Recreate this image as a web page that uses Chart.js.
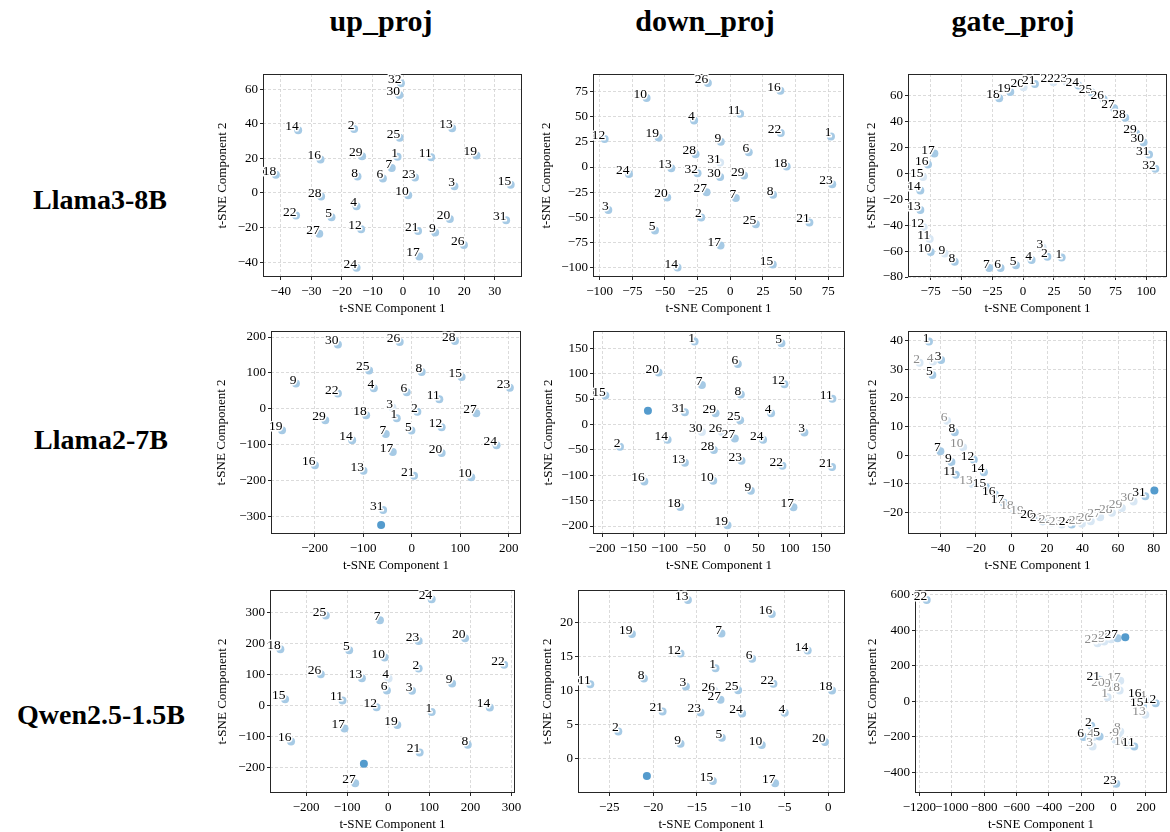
<!DOCTYPE html>
<html>
<head>
<meta charset="utf-8">
<script src="https://cdn.jsdelivr.net/npm/chart.js@4.4.1/dist/chart.umd.min.js"></script>
<style>
  body { margin: 0; background: #fff; width: 1170px; height: 832px; position: relative; overflow: hidden; font-family: "Liberation Serif", "Times New Roman", serif; }
  .colTitle, .rowTitle { position: absolute; font-weight: bold; white-space: nowrap; transform: translate(-50%, -50%); color: #000; }
  .colTitle { font-size: 30px; }
  .rowTitle { font-size: 28px; }
  canvas { position: absolute; }
</style>
</head>
<body>
<div class="colTitle" style="left:381px;top:21px">up_proj</div>
<div class="colTitle" style="left:705px;top:21px">down_proj</div>
<div class="colTitle" style="left:1013px;top:21px">gate_proj</div>
<div class="rowTitle" style="left:100px;top:200px">Llama3-8B</div>
<div class="rowTitle" style="left:101px;top:440px">Llama2-7B</div>
<div class="rowTitle" style="left:101px;top:715px">Qwen2.5-1.5B</div>

<script>
// t-SNE coordinates, one entry per layer (layer 1, 2, 3 ...). "extra" is the unlabeled dark point.

// Llama3-8B
const llama3UpX = [-1.8, -16, 16.8, -15.2, -23.4, -6.6, -3.7, -14.9, 10.5, 1.7, 9.2, -13.7, 16.05, -34.3, 35.2, -27, 5.3, -41.6, 24, 15.3, 4.9, -35, 3.9, -15.2, -1.1, 19.9, -27.4, -26.8, -13.4, -1.2, 33.7, -0.7];
const llama3UpY = [20.9, 37, 3.9, -7.7, -14.1, 8.4, 14.5, 9.5, -22.8, -1.3, 20.7, -21, 37.4, 36.2, 4.7, 19.4, -36.7, 10.5, 21.7, -15, -22, -13.1, 8.9, -43.3, 32, -30.1, -23.6, -2.1, 21.3, 56.7, -15.8, 63.5];

const llama3DownX = [77, -22.3, -93.4, -27.7, -57.7, 14.1, 4.2, 32.7, -7.3, -64.1, 7.5, -96.2, -45.2, -40.4, 32.5, 38.3, -7.5, 43.1, -54.9, -48.3, 60.5, 38.6, 78, -77.6, 19.5, -17.2, -18.2, -26.6, 10.5, -7.8, -7.8, -25.1];
const llama3DownY = [30.3, -50, -42.7, 46.2, -62.9, 14.7, -30.7, -27.4, 25, 68.4, 52.8, 27.9, -1.2, -99.7, -96.7, 75.7, -77.8, 0.4, 29.3, -30.1, -54.9, 33.6, -17.1, -6.9, -56.6, 83.3, -25.1, 12.7, -8.5, -9.9, 4.4, -6.2];

const llama3GateX = [31.3, 19.7, 15.9, 6.9, -5.8, -18.3, -27.5, -55.5, -63.6, -75, -75.8, -80.7, -83.4, -83.4, -81.2, -77.2, -72, -19.4, -10.4, 0.4, 9.6, 24.6, 35.4, 44.9, 55.8, 65.3, 73.9, 82.9, 91.8, 97.8, 102.2, 107.3];
const llama3GateY = [-65, -64.4, -57.2, -66.8, -70.9, -73, -73, -68.3, -61.9, -60.6, -50.7, -41.6, -28.2, -13.1, -2.7, 6.9, 15.4, 58.2, 62.9, 66.7, 69.1, 70.6, 70.6, 68, 62.6, 57.4, 50.4, 43.1, 31, 24, 14.6, 3.7];

// Llama2-7B
const llama2UpX = [-30.8, 11.6, -39.7, -78, -0.7, -10.3, -53.4, 20.5, -238.4, 122.6, 56.8, 61.6, -99.3, -122.6, 102.7, -199.3, -39, -93.8, -267, 61.6, 4.8, -152, 202, 174.7, -87.7, -24.7, 132.9, 89, -178, -152, -58.9];
const llama2UpY = [-26.3, -8.6, 3.5, 57.5, -60.7, 46.4, -70, 102.2, 70.2, -191, 26.8, -51.4, -172.4, -87.7, 88.3, -157.5, -120.3, -17.9, -59.8, -123.1, -186.4, 42.6, 58.5, -101.7, 106.9, 186, -12.3, 188.8, -31.8, 179.5, -282.3];
const llama2UpExtra = [-63, -324.2];

const llama2DownX = [-52.1, -171.3, 123.4, 70.2, 86.7, 17, -40.4, 21.8, 37.8, -22.3, 168.1, 91.5, -67.6, -95.2, -194.7, -132.4, 105.9, -75, 0.5, -109.6, 167.6, 88.3, 22.9, 57.4, 20.7, -8.5, 12.2, -21.3, -18.6, -40.4, -67.6];
const llama2DownY = [163.1, -44, -15.8, 22.2, 159.8, 119.2, 77.9, 58.9, -130.5, -110.8, 50.4, 79.2, -75.4, -30.2, 57, -112.1, -163.2, -162.6, -198.6, 102.2, -83.9, -81.3, -71.5, -30.2, 8.5, -15, -27.6, -50.5, 22.2, -15.1, 24.2];
const llama2DownExtra = [-126.6, 26.8];

const llama2GateX = [-46.4, -51.7, -39.6, -44.1, -44.5, -36.2, -40, -31.9, -33.8, -27.2, -31.3, -21.2, -22, -15.5, -14.4, -9.3, -4.3, 1, 6.6, 12.3, 17.6, 22.6, 28.3, 33.9, 39.6, 44.6, 49.9, 56.5, 62.1, 68.7, 75.3];
const llama2GateY = [39.7, 32.3, 33.3, 32.7, 28, 12, 1.3, 8, -2.4, 2.7, -6.9, -1.6, -10.1, -6, -11.2, -13.8, -16.7, -18.7, -20.6, -22, -23.1, -23.7, -24.3, -24.3, -24, -23.1, -21.7, -20.2, -18.5, -16.2, -14.4];
const llama2GateExtra = [80.4, -12.4];

// Qwen2.5-1.5B
const qwenUpX = [105.7, 74, 57.7, 0.8, -95.1, -3.3, -20.3, 193.5, 155.3, -8.9, -111.4, -28.5, -64.2, 247.2, -251.2, -236.6, -106.5, -262.6, 22, 187, 76.4, 282.1, 74, 105.7, -152, -164.2, -80.5];
const qwenUpY = [-21.5, 119.4, 47.3, 87.1, 178.5, 48.4, 275.3, -126.9, 71, 154.8, 16.1, -5.4, 88.2, -6.5, 20.4, -116.1, -74.2, 181.7, -63.4, 217.2, -151.6, 131.2, 208.6, 343, 290.3, 101.1, -251.6];
const qwenUpExtra = [-59.3, -188.2];

const qwenDownX = [-12.88, -23.97, -16.26, -4.98, -12.16, -8.7, -12.2, -21.05, -16.87, -7.6, -27.17, -16.87, -16.03, -2.36, -13.18, -6.46, -6.08, 0.42, -22.42, -0.38, -18.92, -6.27, -14.59, -9.84, -10.3, -13, -12.31];
const qwenDownY = [13.28, 3.97, 10.59, 6.72, 3.04, 14.66, 18.38, 11.76, 2.16, 1.96, 10.93, 15.44, 23.33, 15.88, -3.33, 21.27, -3.68, 10, 18.33, 2.4, 6.91, 10.98, 6.76, 6.62, 10.05, 9.95, 8.63];
const qwenDownExtra = [-20.71, -2.6];

const qwenGateX = [-37, -138.1, -129.9, -123.7, -86.6, -185.6, 10.3, 41.2, 31, 82.5, 127.8, 259.8, 196, 196, 181.4, 169, 41.2, 37.1, -20.6, -57.7, -86.6, -1154.6, 16.5, -99, -57.7, -16.5, 24.7];
const qwenGateY = [24, -137.3, -253.6, -201.1, -197.4, -201.1, -216.1, -169, -197, -244.3, -253.6, -9.8, -75.4, 12.8, -24.8, 27.8, 116, 61.5, 84, 89.7, 121.6, 571.9, -463.8, 328, 337.6, 350.5, 356];
const qwenGateExtra = [72.2, 361.7];

// layers drawn paler
const llama3DownFaded = [31];
const llama3GateFaded = [3, 9, 11, 12, 15, 20, 22, 23];
const llama2UpFaded = [3];
const llama2DownFaded = [26, 30];
const llama2GateFaded = [2, 4, 6, 10, 13, 18, 19, 22, 23, 25, 26, 27, 28, 29, 30];
const qwenUpFaded = [4];
const qwenDownFaded = [26];
const qwenGateFaded = [1, 3, 4, 7, 8, 9, 10, 13, 14, 17, 18, 19, 20, 24, 25, 26];

// axis limits and ticks
const llama3UpXLim = [-45.8, 38.9], llama3UpYLim = [-48.6, 68.8];
const llama3UpXTicks = [-40, -30, -20, -10, 0, 10, 20, 30], llama3UpYTicks = [-40, -20, 0, 20, 40, 60];
const llama3DownXLim = [-105.1, 87], llama3DownYLim = [-109, 92.2];
const llama3DownXTicks = [-100, -75, -50, -25, 0, 25, 50, 75], llama3DownYTicks = [-100, -75, -50, -25, 0, 25, 50, 75];
const llama3GateXLim = [-93.4, 116.8], llama3GateYLim = [-80, 76.9];
const llama3GateXTicks = [-75, -50, -25, 0, 25, 50, 75, 100], llama3GateYTicks = [-80, -60, -40, -20, 0, 20, 40, 60];
const llama2UpXLim = [-289.7, 225], llama2UpYLim = [-349, 216.8];
const llama2UpXTicks = [-200, -100, 0, 100, 200], llama2UpYTicks = [-300, -200, -100, 0, 100, 200];
const llama2DownXLim = [-214.4, 188.3], llama2DownYLim = [-215.7, 184];
const llama2DownXTicks = [-200, -150, -100, -50, 0, 50, 100, 150], llama2DownYTicks = [-200, -150, -100, -50, 0, 50, 100, 150];
const llama2GateXLim = [-58.2, 87.5], llama2GateYLim = [-27.6, 43.4];
const llama2GateXTicks = [-40, -20, 0, 20, 40, 60, 80], llama2GateYTicks = [-20, -10, 0, 10, 20, 30, 40];
const qwenUpXLim = [-287.8, 308.5], qwenUpYLim = [-282.8, 373];
const qwenUpXTicks = [-200, -100, 0, 100, 200, 300], qwenUpYTicks = [-200, -100, 0, 100, 200, 300];
const qwenDownXLim = [-28.57, 1.9], qwenDownYLim = [-5.1, 24.8];
const qwenDownXTicks = [-25, -20, -15, -10, -5, 0], qwenDownYTicks = [0, 5, 10, 15, 20];
const qwenGateXLim = [-1226.8, 329.9], qwenGateYLim = [-516, 628];
const qwenGateXTicks = [-1200, -1000, -800, -600, -400, -200, 0, 200], qwenGateYTicks = [-400, -200, 0, 200, 400, 600];

const FONT = '"Liberation Serif", "Times New Roman", serif';
const LIGHT = 'rgb(166, 202, 229)';
const PALE = 'rgb(216, 231, 244)';
const DARK = 'rgb(84, 155, 205)';

// plot boxes: [left, right, top, bottom] of the axes area, plus x of y-title centre
const panels = [
  { xs: llama3UpX, ys: llama3UpY, extra: null, faded: [], greyText: false, xlim: llama3UpXLim, ylim: llama3UpYLim, xt: llama3UpXTicks, yt: llama3UpYTicks, box: [263, 522, 74, 277], yTitle: 223 },
  { xs: llama3DownX, ys: llama3DownY, extra: null, faded: llama3DownFaded, greyText: false, xlim: llama3DownXLim, ylim: llama3DownYLim, xt: llama3DownXTicks, yt: llama3DownYTicks, box: [593, 844, 74, 277], yTitle: 547 },
  { xs: llama3GateX, ys: llama3GateY, extra: null, faded: llama3GateFaded, greyText: false, xlim: llama3GateXLim, ylim: llama3GateYLim, xt: llama3GateXTicks, yt: llama3GateYTicks, box: [908, 1167, 74, 277], yTitle: 872 },
  { xs: llama2UpX, ys: llama2UpY, extra: llama2UpExtra, faded: llama2UpFaded, greyText: false, xlim: llama2UpXLim, ylim: llama2UpYLim, xt: llama2UpXTicks, yt: llama2UpYTicks, box: [271, 521, 331, 534], yTitle: 222 },
  { xs: llama2DownX, ys: llama2DownY, extra: llama2DownExtra, faded: llama2DownFaded, greyText: false, xlim: llama2DownXLim, ylim: llama2DownYLim, xt: llama2DownXTicks, yt: llama2DownYTicks, box: [593, 845, 331, 534], yTitle: 549 },
  { xs: llama2GateX, ys: llama2GateY, extra: llama2GateExtra, faded: llama2GateFaded, greyText: true, xlim: llama2GateXLim, ylim: llama2GateYLim, xt: llama2GateXTicks, yt: llama2GateYTicks, box: [908, 1167, 331, 534], yTitle: 873 },
  { xs: qwenUpX, ys: qwenUpY, extra: qwenUpExtra, faded: qwenUpFaded, greyText: false, xlim: qwenUpXLim, ylim: qwenUpYLim, xt: qwenUpXTicks, yt: qwenUpYTicks, box: [270, 515, 590, 793], yTitle: 223 },
  { xs: qwenDownX, ys: qwenDownY, extra: qwenDownExtra, faded: qwenDownFaded, greyText: false, xlim: qwenDownXLim, ylim: qwenDownYLim, xt: qwenDownXTicks, yt: qwenDownYTicks, box: [578, 845, 590, 793], yTitle: 548 },
  { xs: qwenGateX, ys: qwenGateY, extra: qwenGateExtra, faded: qwenGateFaded, greyText: true, xlim: qwenGateXLim, ylim: qwenGateYLim, xt: qwenGateXTicks, yt: qwenGateYTicks, box: [915, 1167, 590, 793], yTitle: 873 }
];

function fmt(v) {
  return v < 0 ? '\u2212' + Math.abs(v) : String(v);
}

// spines on all four sides + layer numbers with a white halo
const labelPlugin = {
  id: 'layerLabels',
  afterDraw(chart) {
    const p = chart.$panel;
    const ctx = chart.ctx, a = chart.chartArea;
    const sx = chart.scales.x, sy = chart.scales.y;
    ctx.save();
    ctx.strokeStyle = '#262626';
    ctx.lineWidth = 1;
    ctx.strokeRect(a.left + 0.5, a.top + 0.5, a.right - a.left - 1, a.bottom - a.top - 1);

    ctx.font = '13.5px ' + FONT;
    ctx.textAlign = 'right';
    ctx.textBaseline = 'alphabetic';
    ctx.lineJoin = 'round';
    p.xs.forEach(function (x, i) {
      const px = sx.getPixelForValue(x);
      const py = sy.getPixelForValue(p.ys[i]);
      const txt = String(i + 1);
      ctx.lineWidth = 3;
      ctx.strokeStyle = '#fff';
      ctx.strokeText(txt, px + 0.5, py);
      ctx.fillStyle = (p.greyText && p.faded.includes(i + 1)) ? '#8c8c8c' : '#000';
      ctx.fillText(txt, px + 0.5, py);
    });
    ctx.restore();
  }
};

panels.forEach(function (p) {
  const [left, right, top, bottom] = p.box;
  const padTop = 14, padRight = 8, xAxisH = 39;
  const cLeft = Math.round(p.yTitle - 8);
  const yAxisW = left - cLeft;
  const W = right - cLeft + padRight;
  const H = padTop + (bottom - top) + xAxisH;

  const canvas = document.createElement('canvas');
  canvas.width = W;
  canvas.height = H;
  canvas.style.left = cLeft + 'px';
  canvas.style.top = (top - padTop) + 'px';
  document.body.appendChild(canvas);

  const pts = p.xs.map((x, i) => ({ x: x, y: p.ys[i] }));
  const colors = p.xs.map((x, i) => p.faded.includes(i + 1) ? PALE : LIGHT);
  if (p.extra) {
    pts.push({ x: p.extra[0], y: p.extra[1] });
    colors.push(DARK);
  }

  const tickFont = { family: FONT, size: 13 };
  const chart = new Chart(canvas, {
    type: 'scatter',
    data: {
      datasets: [{
        data: pts,
        pointRadius: 4,
        pointHoverRadius: 4,
        pointBackgroundColor: colors,
        pointBorderWidth: 0
      }]
    },
    options: {
      responsive: false,
      animation: false,
      events: [],
      layout: { padding: { top: padTop, right: padRight, left: 0, bottom: 0 } },
      plugins: { legend: { display: false }, tooltip: { enabled: false } },
      scales: {
        x: {
          type: 'linear',
          position: 'bottom',
          min: p.xlim[0],
          max: p.xlim[1],
          afterBuildTicks: s => { s.ticks = p.xt.map(v => ({ value: v })); },
          afterFit: s => { s.height = xAxisH; s.paddingLeft = 0; s.paddingRight = 0; },
          ticks: { autoSkip: false, maxRotation: 0, minRotation: 0, padding: 4, color: '#000', font: tickFont, callback: fmt },
          grid: { color: '#d2d2d2', lineWidth: 0.8, tickLength: 3, tickColor: '#262626', tickWidth: 1, tickBorderDash: [] },
          border: { display: false, dash: [3, 2] },
          title: { display: true, text: 't-SNE Component 1', color: '#000', font: tickFont, padding: 0 }
        },
        y: {
          type: 'linear',
          position: 'left',
          min: p.ylim[0],
          max: p.ylim[1],
          afterBuildTicks: s => { s.ticks = p.yt.map(v => ({ value: v })); },
          afterFit: s => { s.width = yAxisW; s.paddingTop = 0; s.paddingBottom = 0; },
          ticks: { autoSkip: false, padding: 2, color: '#000', font: tickFont, callback: fmt },
          grid: { color: '#d2d2d2', lineWidth: 0.8, tickLength: 3, tickColor: '#262626', tickWidth: 1, tickBorderDash: [] },
          border: { display: false, dash: [3, 2] },
          title: { display: true, text: 't-SNE Component 2', color: '#000', font: tickFont, padding: 0 }
        }
      }
    },
    plugins: [{
      id: 'attachPanel',
      beforeInit(c) { c.$panel = p; }
    }, labelPlugin]
  });
});
</script>
</body>
</html>
